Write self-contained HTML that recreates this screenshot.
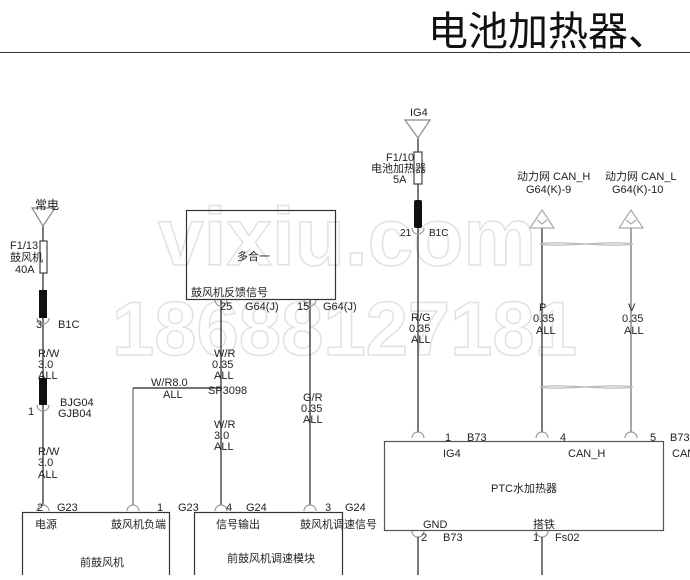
<!DOCTYPE html>
<html><head><meta charset="utf-8"><style>
html,body{margin:0;padding:0;background:#fff;}
svg text{font-family:"Liberation Sans","Noto Sans CJK SC",sans-serif;font-size:11px;fill:#222;}
</style></head><body>
<svg width="690" height="575" viewBox="0 0 690 575" xmlns="http://www.w3.org/2000/svg">
<rect width="690" height="575" fill="#fff"/>
<!-- watermark -->
<text x="158" y="265" style="font-size:82px;font-weight:bold;fill:#fff;stroke:#e2e2e2;stroke-width:1.5">vixiu.com</text>
<text x="112" y="355" style="font-size:76px;font-weight:bold;fill:#fff;stroke:#e2e2e2;stroke-width:1.5">18688127181</text>
<!-- title -->
<text x="428" y="45" style="font-size:40px;fill:#111">电池加热器、</text>
<line x1="0" y1="52.5" x2="690" y2="52.5" stroke="#333" stroke-width="1"/>

<g stroke="#222" stroke-width="1.2" fill="none">
<!-- left wire -->
<line x1="43" y1="226" x2="43" y2="505"/>
<polygon points="32,208 55,208 43,226" stroke="#888" fill="#fff"/>
<rect x="40" y="241" width="7" height="32" fill="#fff" stroke="#444"/>
<path d="M37,318 a6,6 0 0 0 12,0" stroke="#999"/>
<path d="M37,405 a6,6 0 0 0 12,0" stroke="#999"/>
<path d="M37,511 a6,6 0 0 1 12,0" stroke="#999"/>
<!-- box 前鼓风机 -->
<rect x="22.5" y="512.5" width="147" height="70" stroke="#333"/>
<line x1="133" y1="388" x2="133" y2="505" stroke="#888" stroke-width="1.5"/>
<path d="M127,511 a6,6 0 0 1 12,0" stroke="#999"/>
<line x1="133" y1="388" x2="221" y2="388"/>
<!-- module box -->
<rect x="194.5" y="512.5" width="148" height="70" stroke="#333"/>
<line x1="221" y1="300" x2="221" y2="505"/>
<line x1="310" y1="300" x2="310" y2="505"/>
<path d="M215,511 a6,6 0 0 1 12,0" stroke="#999"/>
<path d="M304,511 a6,6 0 0 1 12,0" stroke="#999"/>
<!-- 多合一 -->
<rect x="186.5" y="210.5" width="149" height="89" stroke="#333"/>
<path d="M215,300 a6,6 0 0 0 12,0" stroke="#999"/>
<path d="M304,300 a6,6 0 0 0 12,0" stroke="#999"/>
<!-- IG4 wire -->
<line x1="418" y1="138" x2="418" y2="432"/>
<polygon points="405,120 430,120 418,138" stroke="#888" fill="#fff"/>
<rect x="414" y="152" width="8" height="32" fill="#fff" stroke="#444"/>
<path d="M412,228 a6,6 0 0 0 12,0" stroke="#999"/>
<path d="M412,438 a6,6 0 0 1 12,0" stroke="#999"/>
<!-- CAN -->
<line x1="542" y1="228" x2="542" y2="432"/>
<line x1="631" y1="228" x2="631" y2="432" stroke="#888" stroke-width="1.5"/>
<polygon points="530,228 554,228 542,210" stroke="#aaa" fill="#fff"/>
<polygon points="619,228 643,228 631,210" stroke="#aaa" fill="#fff"/>
<path d="M537,220 l5,4 l5,-4 M626,220 l5,4 l5,-4" stroke="#aaa"/>
<path d="M540,244 C560,240 610,248 633,244 C610,240 560,248 540,244 Z" stroke="#bbb"/>
<path d="M540,387 C560,383 610,391 633,387 C610,383 560,391 540,387 Z" stroke="#bbb"/>
<path d="M536,438 a6,6 0 0 1 12,0" stroke="#999"/>
<path d="M625,438 a6,6 0 0 1 12,0" stroke="#999"/>
<!-- PTC box -->
<rect x="384.5" y="441.5" width="279" height="89" stroke="#555"/>
<path d="M412,531 a6,6 0 0 0 12,0" stroke="#999"/>
<path d="M536,531 a6,6 0 0 0 12,0" stroke="#999"/>
<line x1="418" y1="537" x2="418" y2="575"/>
<line x1="542" y1="537" x2="542" y2="575"/>
</g>
<!-- connector blocks -->
<rect x="39" y="290" width="8" height="28" fill="#111"/>
<rect x="39" y="378" width="8" height="27" fill="#111"/>
<rect x="414" y="200" width="8" height="28" rx="2" fill="#111"/>

<!-- left labels -->
<text x="35" y="209" style="font-size:12px">常电</text>
<text x="10" y="249">F1/13</text>
<text x="10" y="261">鼓风机</text>
<text x="15" y="273">40A</text>
<text x="36" y="328">3</text>
<text x="58" y="328">B1C</text>
<text x="38" y="357">R/W</text>
<text x="38" y="368">3.0</text>
<text x="38" y="379">ALL</text>
<text x="28" y="415">1</text>
<text x="60" y="406">BJG04</text>
<text x="58" y="417">GJB04</text>
<text x="38" y="455">R/W</text>
<text x="38" y="466">3.0</text>
<text x="38" y="478">ALL</text>
<text x="37" y="511">2</text>
<text x="57" y="511">G23</text>
<text x="35" y="528">电源</text>
<text x="111" y="528">鼓风机负端</text>
<text x="80" y="566">前鼓风机</text>
<text x="157" y="511">1</text>
<text x="178" y="511">G23</text>
<text x="151" y="386">W/R8.0</text>
<text x="163" y="398">ALL</text>
<text x="208" y="394">SP3098</text>
<text x="214" y="357">W/R</text>
<text x="212" y="368">0.35</text>
<text x="214" y="379">ALL</text>
<text x="214" y="428">W/R</text>
<text x="214" y="439">3.0</text>
<text x="214" y="450">ALL</text>
<text x="303" y="401">G/R</text>
<text x="301" y="412">0.35</text>
<text x="303" y="423">ALL</text>
<text x="226" y="511">4</text>
<text x="246" y="511">G24</text>
<text x="325" y="511">3</text>
<text x="345" y="511">G24</text>
<text x="216" y="528">信号输出</text>
<text x="300" y="528">鼓风机调速信号</text>
<text x="227" y="562">前鼓风机调速模块</text>
<text x="237" y="260">多合一</text>
<text x="191" y="296">鼓风机反馈信号</text>
<text x="220" y="310">25</text>
<text x="245" y="310">G64(J)</text>
<text x="297" y="310">15</text>
<text x="323" y="310">G64(J)</text>
<!-- right labels -->
<text x="410" y="116">IG4</text>
<text x="386" y="161">F1/10</text>
<text x="371" y="172">电池加热器</text>
<text x="393" y="183">5A</text>
<text x="400" y="236" style="font-size:10px">21</text>
<text x="429" y="236" style="font-size:10px">B1C</text>
<text x="411" y="321">R/G</text>
<text x="409" y="332">0.35</text>
<text x="411" y="343">ALL</text>
<text x="517" y="180">动力网 CAN_H</text>
<text x="526" y="193">G64(K)-9</text>
<text x="605" y="180">动力网 CAN_L</text>
<text x="612" y="193">G64(K)-10</text>
<text x="539" y="311">P</text>
<text x="533" y="322">0.35</text>
<text x="536" y="334">ALL</text>
<text x="628" y="311">V</text>
<text x="622" y="322">0.35</text>
<text x="624" y="334">ALL</text>
<text x="445" y="441">1</text>
<text x="467" y="441">B73</text>
<text x="560" y="441">4</text>
<text x="650" y="441">5</text>
<text x="670" y="441">B73</text>
<text x="443" y="457">IG4</text>
<text x="568" y="457">CAN_H</text>
<text x="672" y="457">CAN_L</text>
<text x="491" y="492">PTC水加热器</text>
<text x="423" y="528">GND</text>
<text x="533" y="528">搭铁</text>
<text x="421" y="541">2</text>
<text x="443" y="541">B73</text>
<text x="533" y="541">1</text>
<text x="555" y="541">Fs02</text>
</svg>
</body></html>
